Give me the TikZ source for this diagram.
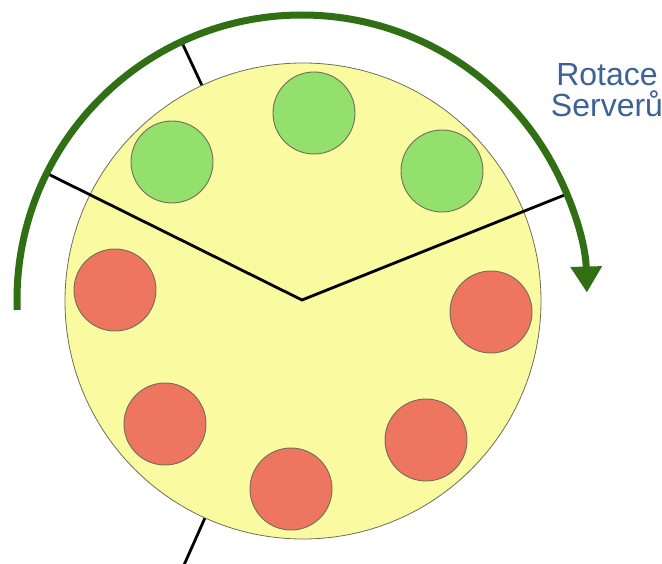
\documentclass[tikz,border=0pt]{standalone}
\usepackage{fontspec}
\setmainfont{Liberation Sans}
\usetikzlibrary{arrows.meta,calc}
\definecolor{disk}{HTML}{FAFBA0}
\definecolor{gsrv}{HTML}{94E06C}
\definecolor{rsrv}{HTML}{EE7560}
\definecolor{arcg}{HTML}{316F14}
\definecolor{txtb}{HTML}{3D6298}
\definecolor{rim}{HTML}{6E6E5A}
\tikzset{
  srv/.style={circle, draw=rim, line width=0.9pt, minimum size=82pt, inner sep=0pt},
  green srv/.style={srv, fill=gsrv},
  red srv/.style={srv, fill=rsrv},
  hand/.style={line width=2.8pt, black},
  rot/.style={line width=7pt, arcg}
}
\begin{document}
\begin{tikzpicture}[x=1pt,y=-1pt]
\useasboundingbox (0,0) rectangle (662,564);
\begin{scope}
\clip (0,0) rectangle (662,564);
\begin{scope}[shift={(302,300)}]
  \coordinate (c) at (0,0);
  % short radial segments outside the disk
  \coordinate (u1) at (-115:237);
  \coordinate (u2) at (-115:285);
  \coordinate (b1) at (-246:236);
  \coordinate (b2) at (-246:320);
  \draw[hand] (u1) -- (u2);
  \draw[hand] (b1) -- (b2);
  % disk
  \node[circle, draw=rim, line width=0.8pt, fill=disk, minimum size=476pt, inner sep=0pt] (disk) at (1,1) {};
  % hands
  \coordinate (l) at (-153.6:284);
  \coordinate (r) at (-21.8:286);
  \draw[hand, line join=miter] (l) -- (c) -- (r);
  % rotation arrow
  \draw[rot, -{Triangle[width=30pt,length=26pt]}] (-182:285) arc[start angle=-182, end angle=-1.5, radius=285];
\end{scope}
% servers
\node[green srv] (g1) at (314,113) {};
\node[green srv] (g2) at (172,162) {};
\node[green srv] (g3) at (442,171) {};
\node[red srv] (r1) at (115,290) {};
\node[red srv] (r2) at (491,312) {};
\node[red srv] (r3) at (165,424) {};
\node[red srv] (r4) at (426,440) {};
\node[red srv] (r5) at (291,489) {};
\end{scope}
\node[anchor=north, inner sep=0pt, align=center, text=txtb, font=\fontsize{32}{31}\selectfont] (lbl) at (607,63) {Rotace\\Serverů};
\end{tikzpicture}
\end{document}
